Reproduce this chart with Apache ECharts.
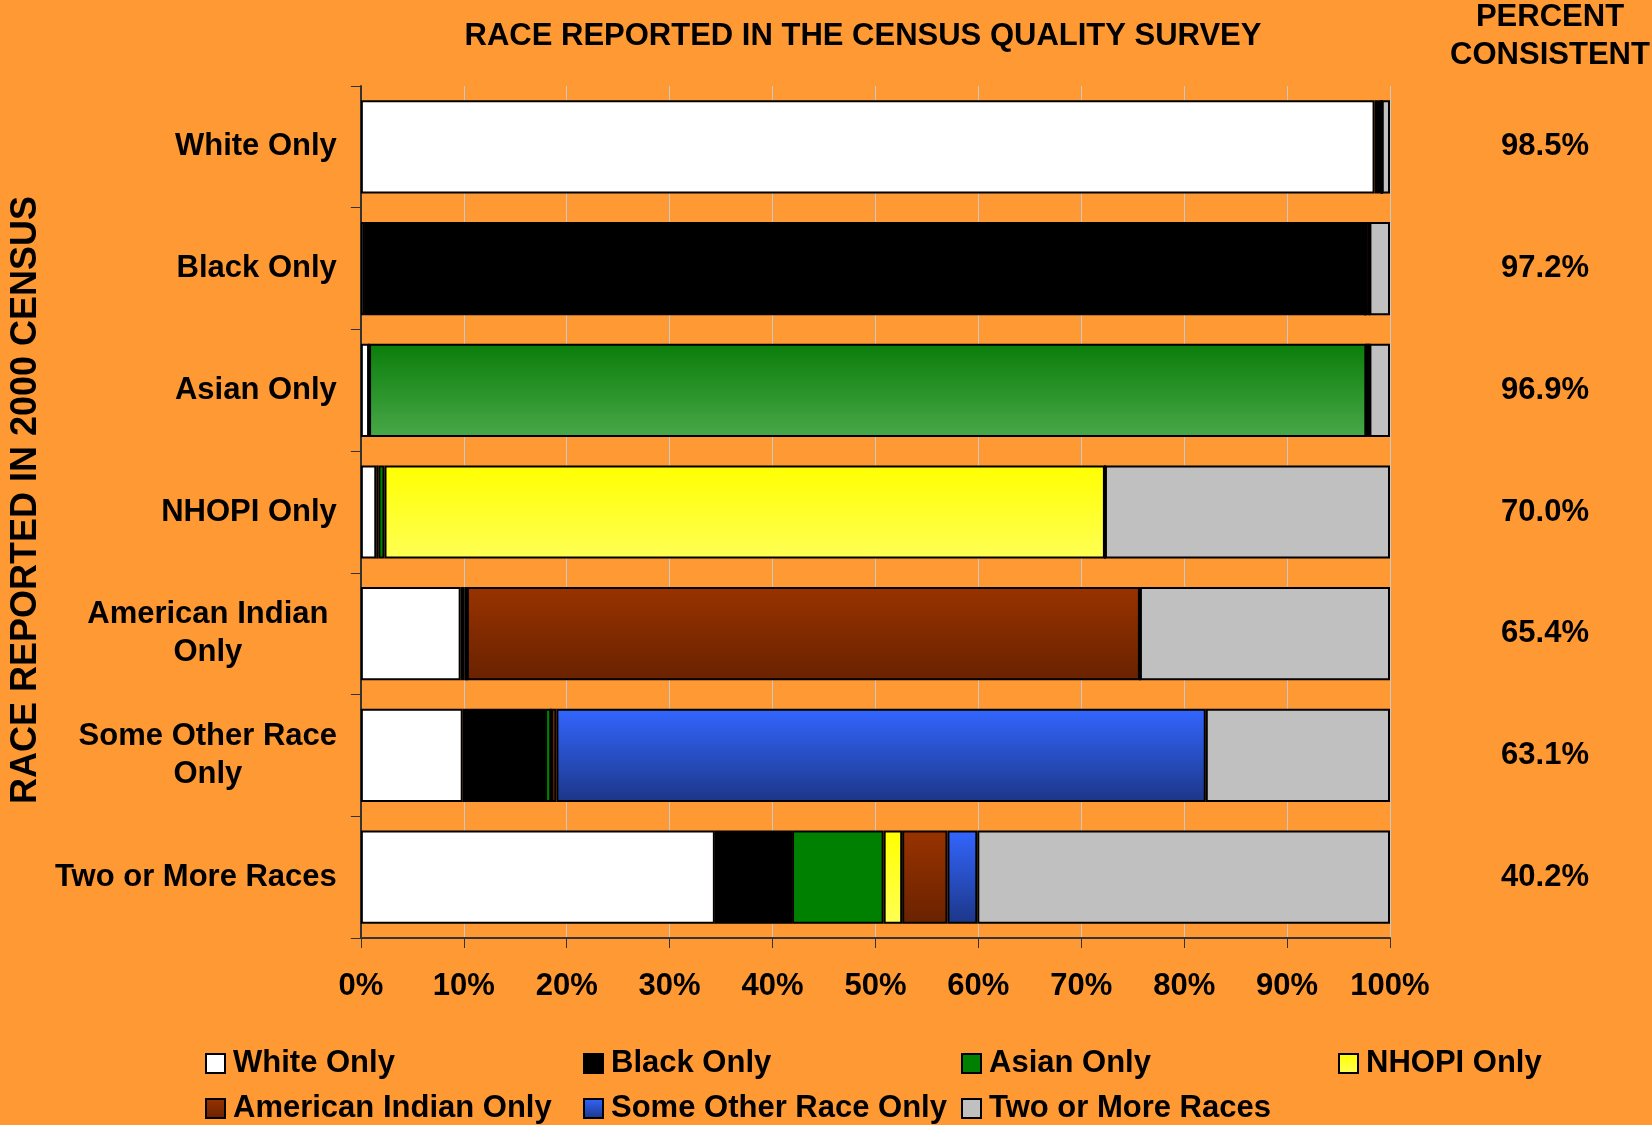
<!DOCTYPE html>
<html>
<head>
<meta charset="utf-8">
<script src="https://cdn.jsdelivr.net/npm/echarts@6/dist/echarts.min.js"></script>
<style>
html,body{margin:0;padding:0;background:#FF9933;}
#chart{width:1652px;height:1125px;}
</style>
</head>
<body>
<div id="chart"></div>
<script>
var categories = ['White Only','Black Only','Asian Only','NHOPI Only','American Indian\nOnly','Some Other Race\nOnly','Two or More Races'];
var consistent = ['98.5%','97.2%','96.9%','70.0%','65.4%','63.1%','40.2%'];
var seriesNames = ['White Only','Black Only','Asian Only','NHOPI Only','American Indian Only','Some Other Race Only','Two or More Races'];
var whiteOnly   = [98.5, 0.4, 0.8, 1.5, 9.7, 9.9, 34.4];
var blackOnly   = [0.7, 97.2, 0, 0.2, 0.4, 8.0, 7.5];
var asianOnly   = [0, 0, 96.9, 0.6, 0.2, 0.6, 8.9];
var nhopiOnly   = [0, 0, 0, 70.0, 0, 0, 1.8];
var amIndOnly   = [0, 0.4, 0.3, 0, 65.4, 0.5, 4.4];
var sorOnly     = [0, 0, 0, 0, 0, 63.1, 2.9];
var twoOrMore   = [0.8, 2.0, 2.0, 27.7, 24.3, 17.9, 40.1];
var xTicks = ['0%','10%','20%','30%','40%','50%','60%','70%','80%','90%','100%'];

var FONT = '"Liberation Sans", Arial, sans-serif';
var FS = 31;
function grad(top, bottom){
  return new echarts.graphic.LinearGradient(0,0,0,1,[{offset:0,color:top},{offset:1,color:bottom}]);
}
var colors = [
  '#FFFFFF',
  '#000000',
  '#008000',
  grad('#FFFF00','#FFFF55'),
  grad('#983300','#6A2200'),
  grad('#3366FF','#1C3687'),
  '#C0C0C0'
];
var asianGrad = grad('#0A7D0A','#48A848');
var values = [whiteOnly, blackOnly, asianOnly, nhopiOnly, amIndOnly, sorOnly, twoOrMore];

var series = values.map(function(arr, i){
  var data = arr.map(function(v, j){
    if (i === 2 && j === 2) return {value: v, itemStyle: {color: asianGrad}};
    return v;
  });
  return {
    name: seriesNames[i],
    type: 'bar',
    stack: 'total',
    barWidth: '76.6%',
    data: data,
    itemStyle: {color: colors[i], borderColor: '#000', borderWidth: 2},
    emphasis: {disabled: true}
  };
});

function legendCol(left, names){
  return {
    orient: 'vertical',
    left: left,
    top: 1048,
    height: 110,
    padding: 0,
    itemWidth: 19,
    itemHeight: 19,
    itemGap: 14,
    icon: 'rect',
    data: names,
    selectedMode: false,
    textStyle: {fontFamily: FONT, fontSize: FS, fontWeight: 'bold', color: '#000', lineHeight: 30, padding: [0,0,0,3]}
  };
}

var chart = echarts.init(document.getElementById('chart'), null, {renderer: 'canvas'});
chart.setOption({
  backgroundColor: '#FF9933',
  animation: false,
  title: [
    {text: 'RACE REPORTED IN THE CENSUS QUALITY SURVEY', left: 863, top: 21, padding: 0, textAlign: 'center',
     textStyle: {fontFamily: FONT, fontSize: FS, fontWeight: 'bold', color: '#000'}},
    {text: 'PERCENT\nCONSISTENT', left: 1550, top: -2, padding: 0, textAlign: 'center',
     textStyle: {fontFamily: FONT, fontSize: FS, fontWeight: 'bold', color: '#000', lineHeight: 38, align: 'center'}}
  ],
  legend: [
    legendCol(205, [seriesNames[0], seriesNames[4]]),
    legendCol(583, [seriesNames[1], seriesNames[5]]),
    legendCol(961, [seriesNames[2], seriesNames[6]]),
    legendCol(1338, [seriesNames[3]])
  ],
  grid: {left: 345, right: 262, top: 86, bottom: 187, containLabel: false},
  xAxis: {
    type: 'value', min: 0, max: 100, interval: 10,
    axisLine: {show: true, lineStyle: {color: '#333', width: 2}},
    axisTick: {show: true, length: 10, lineStyle: {color: '#333', width: 1}},
    splitLine: {show: true, lineStyle: {color: '#C8C8C8', width: 1}},
    axisLabel: {margin: 33, fontFamily: FONT, fontSize: FS, fontWeight: 'bold', color: '#000',
      formatter: function(v){ return xTicks[Math.round(v/10)]; }}
  },
  yAxis: [
    {
      type: 'category', data: categories, inverse: true,
      name: 'RACE REPORTED IN 2000 CENSUS', nameLocation: 'middle', nameRotate: 90, nameGap: 315,
      nameTextStyle: {fontFamily: FONT, fontSize: 36, fontWeight: 'bold', color: '#000', padding: [0,0,0,24]},
      axisLine: {show: true, lineStyle: {color: '#333', width: 2}},
      axisTick: {show: true, length: 10, lineStyle: {color: '#333'}},
      axisLabel: {
        margin: 24, fontFamily: FONT, fontSize: FS, fontWeight: 'bold', color: '#000',
        formatter: function(v){
          if (v.indexOf('\n') >= 0) {
            return v.split('\n').map(function(s){ return '{c|' + s + '}'; }).join('\n');
          }
          return v;
        },
        rich: {c: {width: 258, align: 'center', fontFamily: FONT, fontSize: FS, fontWeight: 'bold', color: '#000', lineHeight: 38}}
      }
    },
    {
      type: 'category', data: consistent, inverse: true, position: 'right',
      axisLine: {show: false}, axisTick: {show: false},
      axisLabel: {margin: 155, align: 'center', fontFamily: FONT, fontSize: FS, fontWeight: 'bold', color: '#000'}
    }
  ],
  series: series
});
</script>
</body>
</html>
